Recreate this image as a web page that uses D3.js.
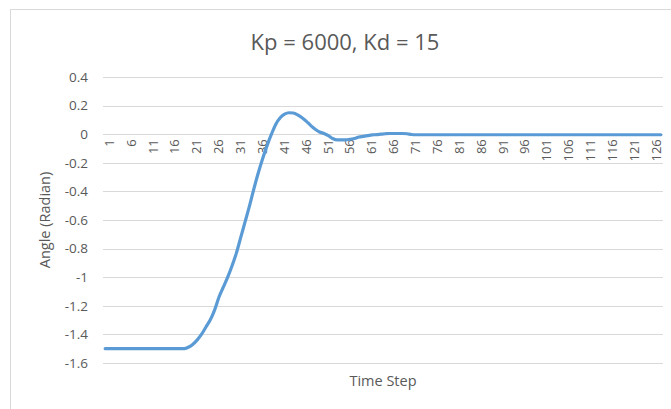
<!DOCTYPE html>
<html>
<head>
<meta charset="utf-8">
<script src="https://cdn.jsdelivr.net/npm/d3@7"></script>
<style>
  html, body { margin: 0; padding: 0; background: #fff; }
  svg text { font-family: "Open Sans", "Liberation Sans", sans-serif; fill: #595959; }
</style>
</head>
<body>
<svg id="chart" width="671" height="409"></svg>
<script>
// Angle response of the PD controller, one value per time step (1..128)
const timeSteps = d3.range(1, 129);
const angle = [
  -1.5, -1.5, -1.5, -1.5, -1.5, -1.5, -1.5, -1.5, -1.5, -1.5,
  -1.5, -1.5, -1.5, -1.5, -1.5, -1.5, -1.5, -1.5, -1.5, -1.49,
  -1.47, -1.44, -1.40, -1.35, -1.30, -1.23, -1.14, -1.07, -1.00, -0.92,
  -0.83, -0.72, -0.61, -0.50, -0.38, -0.27, -0.17, -0.08, 0.00, 0.07,
  0.115, 0.14, 0.15, 0.148, 0.135, 0.115, 0.09, 0.06, 0.035, 0.015,
  0.005, -0.01, -0.03, -0.04, -0.04, -0.04, -0.035, -0.03, -0.02, -0.015,
  -0.01, -0.005, -0.003, 0.0, 0.003, 0.005, 0.005, 0.005, 0.005, 0.003,
  -0.002, -0.004, -0.004, -0.004, -0.004, -0.004, -0.004, -0.004, -0.004, -0.004,
  -0.004, -0.004, -0.004, -0.004, -0.004, -0.004, -0.004, -0.004, -0.004, -0.004,
  -0.004, -0.004, -0.004, -0.004, -0.004, -0.004, -0.004, -0.004, -0.004, -0.004,
  -0.004, -0.004, -0.004, -0.004, -0.004, -0.004, -0.004, -0.004, -0.004, -0.004,
  -0.004, -0.004, -0.004, -0.004, -0.004, -0.004, -0.004, -0.004, -0.004, -0.004,
  -0.004, -0.004, -0.004, -0.004, -0.004, -0.004, -0.004, -0.004
];
const yTicks = [0.4, 0.2, 0, -0.2, -0.4, -0.6, -0.8, -1, -1.2, -1.4, -1.6];
const xTickLabels = d3.range(1, 127, 5);

const titleText = "Kp = 6000, Kd = 15";
const xTitle = "Time Step";
const yTitle = "Angle (Radian)";

const svg = d3.select("#chart");
const plot = { left: 103, right: 663, top: 77, bottom: 363 };

// chart-area frame
svg.append("rect")
  .attr("x", 10.5).attr("y", 9.5)
  .attr("width", 700).attr("height", 420)
  .attr("fill", "none").attr("stroke", "#d9d9d9");

const x = d3.scaleBand()
  .domain(timeSteps)
  .range([plot.left, plot.right]);

const y = d3.scaleLinear()
  .domain([-1.6, 0.4])
  .range([plot.bottom, plot.top]);

// horizontal gridlines
svg.append("g")
  .selectAll("line")
  .data(yTicks)
  .join("line")
  .attr("x1", plot.left).attr("x2", plot.right)
  .attr("y1", d => Math.round(y(d)) + 0.5)
  .attr("y2", d => Math.round(y(d)) + 0.5)
  .attr("stroke", "#d9d9d9").attr("stroke-width", 1);

// y axis labels
const yAxis = d3.axisLeft(y).tickValues(yTicks).tickSize(0).tickPadding(0)
  .tickFormat(d => d === 0 ? "0" : String(d));
svg.append("g")
  .attr("transform", `translate(${plot.left - 15},0)`)
  .call(yAxis)
  .call(g => g.select(".domain").remove())
  .call(g => g.selectAll("text")
    .attr("font-size", 13.5)
    .attr("fill", "#595959")
    .style("font-family", "'Open Sans', sans-serif"));

// x axis labels, rotated, hanging just below the zero line
const xAxisG = svg.append("g");
xAxisG.selectAll("text")
  .data(xTickLabels)
  .join("text")
  .attr("transform", d => `translate(${x(d) + x.bandwidth() / 2 + 4},${y(0) + 5}) rotate(-90)`)
  .attr("text-anchor", "end")
  .attr("dy", "0.35em")
  .attr("font-size", 13)
  .text(d => d);

// response line
const line = d3.line()
  .x((d, i) => x(timeSteps[i]) + x.bandwidth() / 2)
  .y(d => y(d))
  .curve(d3.curveMonotoneX);

svg.append("path")
  .datum(angle)
  .attr("d", line)
  .attr("fill", "none")
  .attr("stroke", "#5b9bd5")
  .attr("stroke-width", 3.2)
  .attr("stroke-linecap", "round")
  .attr("stroke-linejoin", "round");

// titles
svg.append("text")
  .attr("x", 345).attr("y", 50)
  .attr("text-anchor", "middle")
  .attr("font-size", 22)
  .text(titleText);

svg.append("text")
  .attr("x", (plot.left + plot.right) / 2).attr("y", 386)
  .attr("text-anchor", "middle")
  .attr("font-size", 14.5)
  .text(xTitle);

svg.append("text")
  .attr("transform", `translate(50,${(plot.top + plot.bottom) / 2}) rotate(-90)`)
  .attr("text-anchor", "middle")
  .attr("font-size", 14.5)
  .text(yTitle);
</script>
</body>
</html>
